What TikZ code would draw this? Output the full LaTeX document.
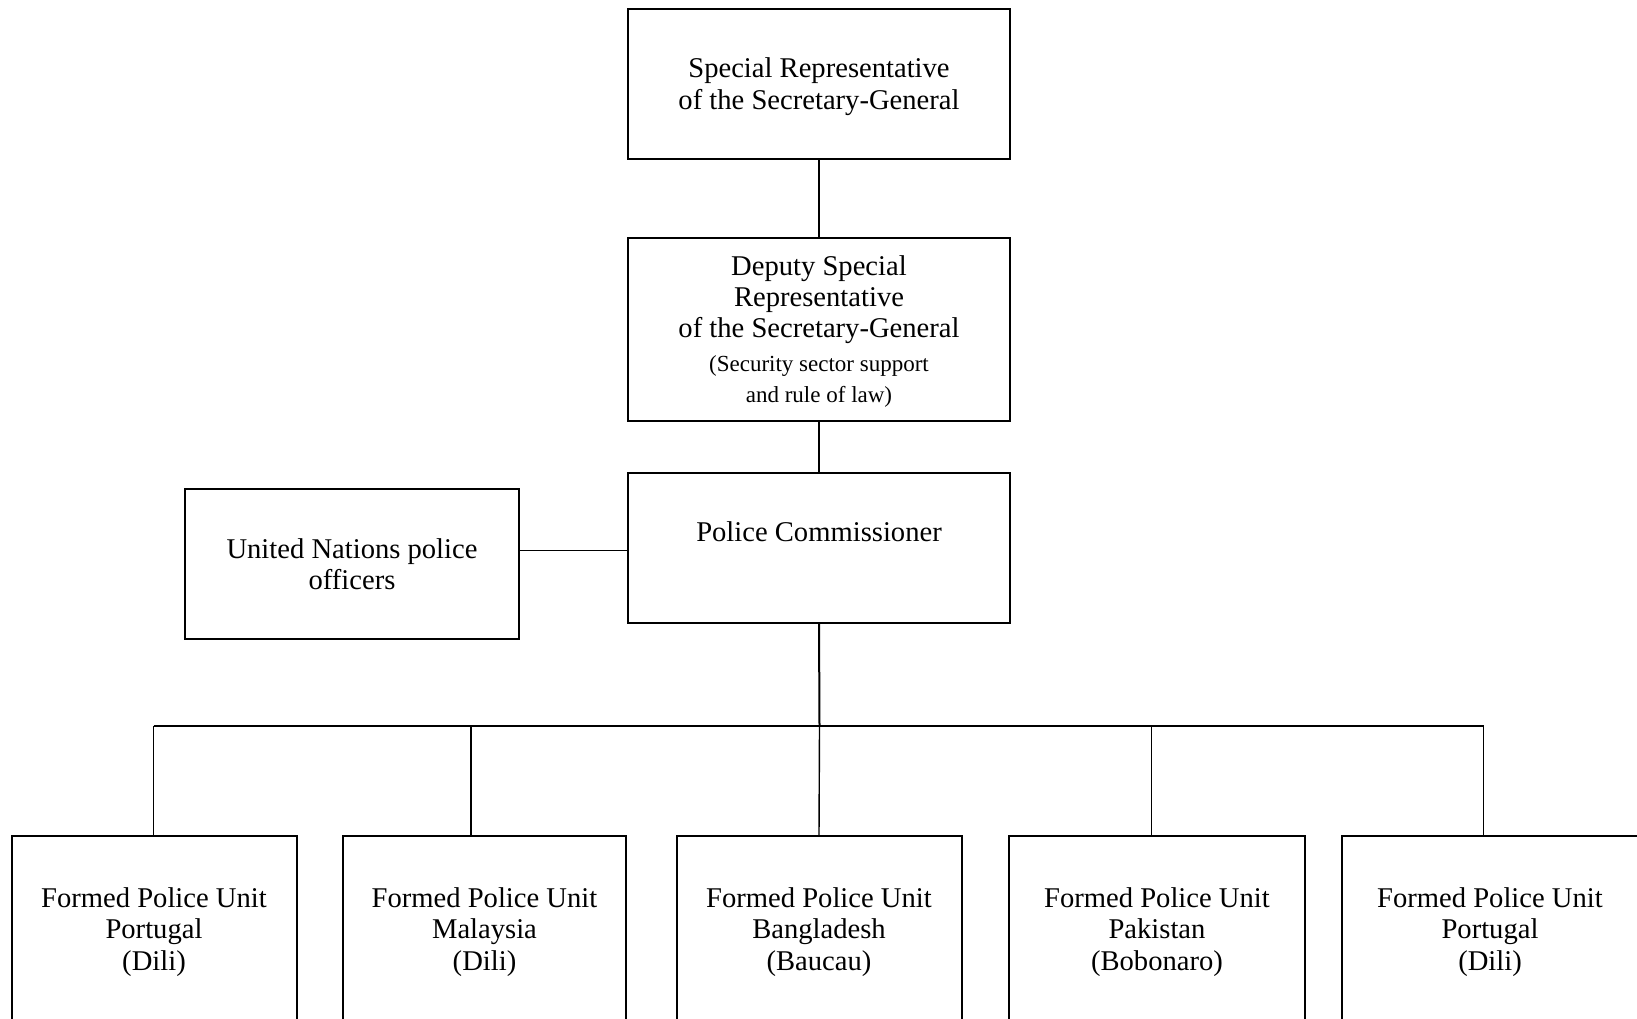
\documentclass[tikz,border=0pt]{standalone}
\usepackage{fontspec}
\setmainfont{Liberation Serif}
\usepackage{tikz}
\usetikzlibrary{positioning}

\newcommand{\smalltext}{\fontsize{11.5}{15.65}\selectfont}

\begin{document}
\begin{tikzpicture}[x=0.5pt,y=-0.5pt,
  box/.style={draw,line width=1pt,align=center,inner sep=0pt,text depth=0pt,
              font=\fontsize{14.3}{15.65}\selectfont},
  chiefbox/.style={box,minimum width=191pt,minimum height=75pt},
  unitbox/.style={box,minimum height=93pt},
  link/.style={line width=0.7pt}]
  \useasboundingbox (0,0) rectangle (1637,1018);

  % command chain
  \node[chiefbox] (srsg) at (819,83.5)
    {Special Representative\\of the Secretary-General};
  \node[chiefbox,minimum height=91.5pt,below=38.5pt of srsg] (dsrsg)
    {Deputy Special\\Representative\\of the Secretary-General\\[1pt]
     \smalltext(Security sector support\\\smalltext and rule of law)};
  \node[chiefbox,below=25pt of dsrsg] (pc)
    {Police Commissioner\\\mbox{}};
  \node[box,minimum width=167pt,minimum height=75pt] (unpol) at (352,564)
    {United Nations police\\officers};

  % formed police units
  \node[unitbox,minimum width=142.5pt] (fpu1) at (154,929)
    {Formed Police Unit\\Portugal\\(Dili)};
  \node[unitbox,minimum width=141.5pt] (fpu2) at (484.5,929)
    {Formed Police Unit\\Malaysia\\(Dili)};
  \node[unitbox,minimum width=142.5pt] (fpu3) at (819,929)
    {Formed Police Unit\\Bangladesh\\(Baucau)};
  \node[unitbox,minimum width=147.75pt] (fpu4) at (1157,929)
    {Formed Police Unit\\Pakistan\\(Bobonaro)};
  \node[unitbox,minimum width=148pt] (fpu5) at (1490,929)
    {Formed Police Unit\\Portugal\\(Dili)};

  % bus line
  \coordinate (pcin) at ([yshift=-1.5pt]pc.west);
  \coordinate (bus) at (819.5,726);
  \coordinate (busL) at (153.5,726);
  \coordinate (tap2) at (471,726);
  \coordinate (tap4) at (1151.5,726);
  \coordinate (busR) at (1483.5,726);

  \draw[link] (srsg) -- (dsrsg);
  \draw[link] (dsrsg) -- (pc);
  \draw[link] (pcin -| unpol.east) -- (pcin);
  \draw[line width=1pt] (pc.south) -- (bus);
  \draw[link] (busL) -- (busR);
  \draw[link] (busL) -- (busL |- fpu1.north);
  \draw[link] (tap2) -- (tap2 |- fpu2.north);
  \draw[link] (bus) -- (fpu3.north);
  \draw[link] (tap4) -- (tap4 |- fpu4.north);
  \draw[link] (busR) -- (busR |- fpu5.north);
\end{tikzpicture}
\end{document}
